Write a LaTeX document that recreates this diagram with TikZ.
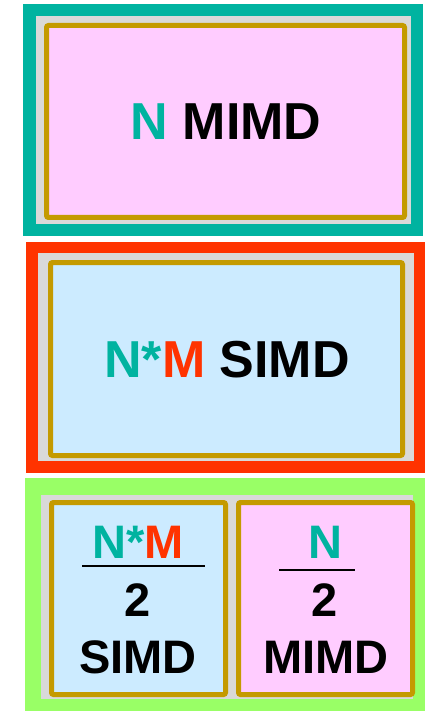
\documentclass[tikz,border=0pt]{standalone}
\usepackage{fontspec}
\setmainfont{Liberation Sans}
\usetikzlibrary{positioning, calc}

\definecolor{tealN}{RGB}{0,179,160}
\definecolor{redM}{RGB}{255,51,0}
\definecolor{greenF}{RGB}{153,255,102}
\definecolor{grayB}{RGB}{217,217,217}
\definecolor{goldB}{RGB}{196,154,0}
\definecolor{pinkF}{RGB}{255,204,255}
\definecolor{blueF}{RGB}{204,235,255}

\begin{document}
\begin{tikzpicture}[
    x=1pt, y=-1pt,
    frame/.style={rectangle, draw=none, inner sep=0pt, outer sep=0pt, anchor=north west},
    core/.style={rectangle, draw=goldB, line width=5pt, rounded corners=2pt, inner sep=0pt, outer sep=0pt},
    big/.style={font=\fontsize{52}{60}\selectfont\bfseries, inner sep=0pt},
    half/.style={font=\fontsize{47}{56}\selectfont\bfseries, inner sep=0pt},
    fracline/.style={line width=2.2pt}
]
\useasboundingbox (0,0) rectangle (425,711);

% N MIMD
\node[frame, fill=tealN, minimum width=400pt, minimum height=232pt] (mimdouter) at (23,4) {};
\node[frame, fill=grayB, minimum width=375pt, minimum height=208pt] (mimdgray) at (36,16) {};
\node[core, fill=pinkF, minimum width=358pt, minimum height=192pt] (mimdcore) at (225.5,121.5) {};
\node[big] (mimdtext) at (226,122) {\textcolor{tealN}{N} MIMD};

% N*M SIMD
\node[frame, fill=redM, minimum width=399pt, minimum height=231pt] (simdouter) at (26,242) {};
\node[frame, fill=grayB, minimum width=376pt, minimum height=208pt] (simdgray) at (38,253) {};
\node[core, fill=blueF, minimum width=352pt, minimum height=193pt] (simdcore) at (226.5,359) {};
\node[big] (simdtext) at (227,360) {\textcolor{tealN}{N*}\textcolor{redM}{M} SIMD};

% half and half
\node[frame, fill=greenF, minimum width=400pt, minimum height=233pt] (mixouter) at (25,478) {};
\node[frame, fill=grayB, minimum width=372pt, minimum height=204pt] (mixgray) at (41,495) {};
\node[core, fill=blueF, minimum width=174pt, minimum height=192pt] (leftcore) at (138.5,598.5) {};
\node[core, fill=pinkF, minimum width=174pt, minimum height=192pt] (rightcore) at (325.5,598.5) {};

\node[half] (leftnum) at (138,542) {\textcolor{tealN}{N*}\textcolor{redM}{M}};
\draw[fracline] (82,566) -- (205,566);
\node[half] (leftden) at (138,600.5) {2};
\node[half] (lefttext) at (138,657) {SIMD};

\node[half] (rightnum) at (325,542) {\textcolor{tealN}{N}};
\draw[fracline] (279,570) -- (355,570);
\node[half] (rightden) at (325,600.5) {2};
\node[half] (righttext) at (326,657) {MIMD};

\end{tikzpicture}
\end{document}
